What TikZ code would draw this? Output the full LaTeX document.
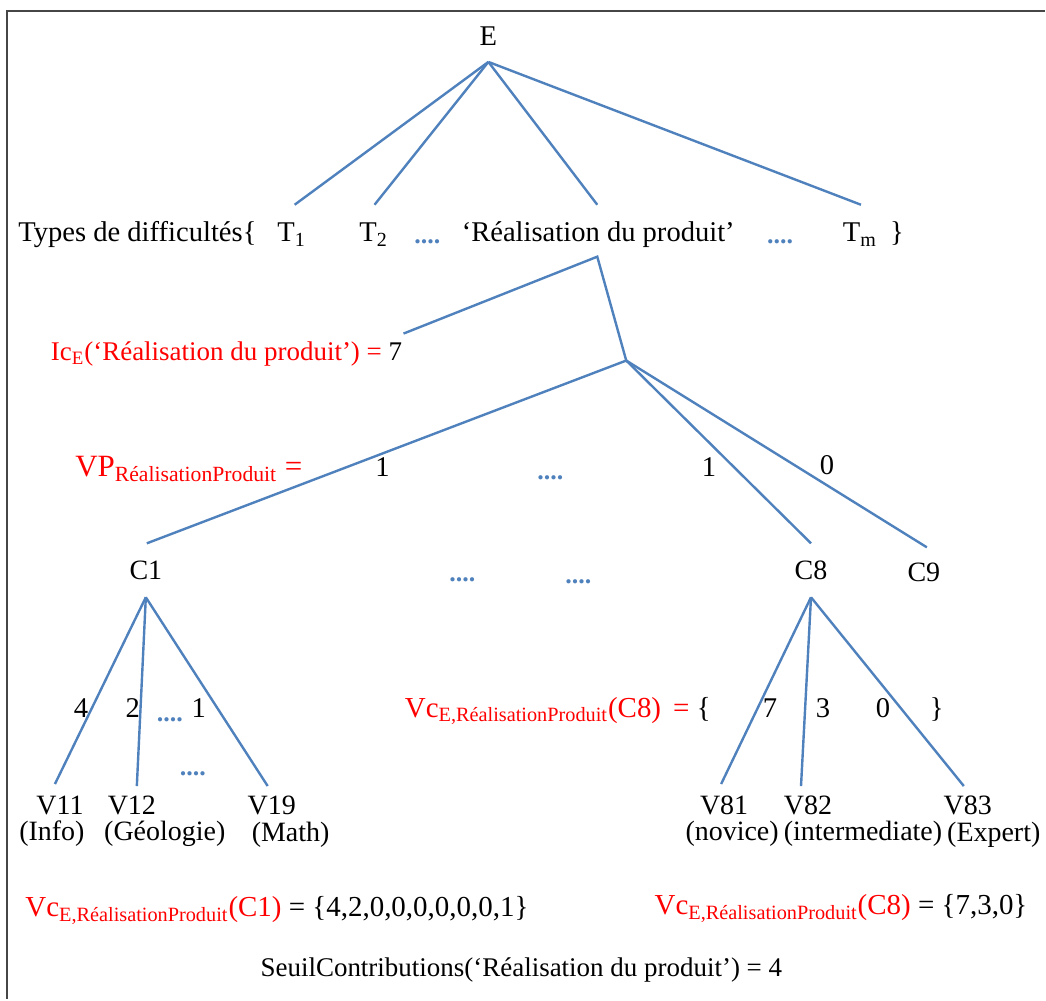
\documentclass[tikz,border=0pt]{standalone}
\usepackage{fontspec}
\setmainfont{Liberation Serif}
\definecolor{linkblue}{RGB}{79,129,189}
\definecolor{framegray}{RGB}{70,70,70}

\begin{document}
\begin{tikzpicture}[
    x=0.5pt,y=-0.5pt,
    lbl/.style={inner sep=0pt,text height=9pt,text depth=3pt,font=\fontsize{14.3}{17}\selectfont},
    leaf/.style={lbl,font=\fontsize{14}{16.5}\selectfont},
    redlbl/.style={lbl,text=red,font=\fontsize{14.5}{17}\selectfont},
    dots/.style={lbl,text=linkblue,font=\fontsize{13}{15}\selectfont\bfseries},
    branch/.style={draw=linkblue,line width=1.2pt},
    frame/.style={draw=framegray,line width=1.3pt}
]
    \fill[white] (0,0) rectangle (1046,1000);
    \draw[frame] (1046,11) -- (7,11) -- (7,1000);

    % root and types
    \node[lbl] (E) at (489,40) {E};
    \node[lbl,anchor=west] (types) at (18,236) {Types de difficultés\{};
    \node[lbl] (T1) at (292,236) {T\textsubscript{1}};
    \node[lbl] (T2) at (374,236) {T\textsubscript{2}};
    \node[dots] (td1) at (428,238) {....};
    \node[lbl] (real) at (599,236) {‘Réalisation du produit’};
    \node[dots] (td2) at (781,238) {....};
    \node[lbl] (Tm) at (861,236) {T\textsubscript{m}};
    \node[lbl] (tclose) at (898,236) {\}};

    \node[redlbl,anchor=east,font=\fontsize{13.5}{16}\selectfont] (ic) at (403,355) {Ic\textsubscript{E}(‘Réalisation du produit’) = {\color{black}7}};

    % competences
    \node[redlbl,anchor=west,font=\fontsize{15.5}{18}\selectfont] (vp) at (75,471) {VP\textsubscript{RéalisationProduit} =};
    \node[lbl] (w1) at (383,471) {1};
    \node[dots] (wd) at (551,474) {....};
    \node[lbl] (w8) at (710,471) {1};
    \node[lbl] (w9) at (828,469) {0};

    \node[leaf] (C1) at (146,574) {C1};
    \node[dots] (cd1) at (463,576) {....};
    \node[dots] (cd2) at (579,578) {....};
    \node[leaf] (C8) at (812,574) {C8};
    \node[leaf] (C9) at (925,576) {C9};

    % values of C1
    \node[lbl] (n11) at (81,712) {4};
    \node[lbl] (n12) at (133,712) {2};
    \node[dots] (nd1) at (170,716) {....};
    \node[lbl] (n19) at (199,712) {1};
    \node[dots] (nd2) at (193,770) {....};

    \node[leaf] (V11) at (60,809) {V11};
    \node[leaf] (V11t) at (52,836) {(Info)};
    \node[leaf] (V12) at (132,809) {V12};
    \node[leaf] (V12t) at (165,836) {(Géologie)};
    \node[leaf] (V19) at (272,809) {V19};
    \node[leaf] (V19t) at (291,837) {(Math)};

    % values of C8
    \node[redlbl,anchor=west] (vc8) at (405,712) {Vc\textsubscript{E,RéalisationProduit}(C8)\, = {\color{black}\{}};
    \node[lbl] (n81) at (771,712) {7};
    \node[lbl] (n82) at (824,712) {3};
    \node[lbl] (n83) at (884,712) {0};
    \node[lbl] (nclose) at (938,712) {\}};

    \node[leaf] (V81) at (725,809) {V81};
    \node[leaf] (V81t) at (733,836) {(novice)};
    \node[leaf] (V82) at (809,809) {V82};
    \node[leaf] (V82t) at (864,836) {(intermediate)};
    \node[leaf] (V83) at (969,809) {V83};
    \node[leaf] (V83t) at (995,837) {(Expert)};

    % results
    \node[redlbl,anchor=west] (res1) at (25,912) {Vc\textsubscript{E,RéalisationProduit}(C1) {\color{black}= \{4,2,0,0,0,0,0,0,1\}}};
    \node[redlbl,anchor=west] (res8) at (655,910) {Vc\textsubscript{E,RéalisationProduit}(C8) {\color{black}= \{7,3,0\}}};
    \node[lbl,font=\fontsize{13.5}{16}\selectfont] (seuil) at (522,972) {SeuilContributions(‘Réalisation du produit’) = 4};

    % branch ends
    \coordinate (E-foot) at (489,62);
    \coordinate (T1-tip) at (295,205);
    \coordinate (T2-tip) at (375,205);
    \coordinate (real-tip) at (598,205);
    \coordinate (Tm-tip) at (862,205);
    \coordinate (real-foot) at (598,257);
    \coordinate (ic-tip) at (404,334);
    \coordinate (J) at (627,361);
    \coordinate (C1-tip) at (147,544);
    \coordinate (C8-tip) at (812,544);
    \coordinate (C9-tip) at (928,548);
    \coordinate (C1-foot) at (146,598);
    \coordinate (V11-tip) at (55,785);
    \coordinate (V12-tip) at (137,787);
    \coordinate (V19-tip) at (268,787);
    \coordinate (C8-foot) at (812,598);
    \coordinate (V81-tip) at (722,785);
    \coordinate (V82-tip) at (802,787);
    \coordinate (V83-tip) at (965,787);

    \foreach \t in {T1,T2,real,Tm}
        \draw[branch] (E-foot) -- (\t-tip);
    \draw[branch] (ic-tip) -- (real-foot) -- (J);
    \foreach \c in {C1,C8,C9}
        \draw[branch] (J) -- (\c-tip);
    \foreach \v in {V11,V12,V19}
        \draw[branch] (C1-foot) -- (\v-tip);
    \foreach \v in {V81,V82,V83}
        \draw[branch] (C8-foot) -- (\v-tip);
\end{tikzpicture}
\end{document}
